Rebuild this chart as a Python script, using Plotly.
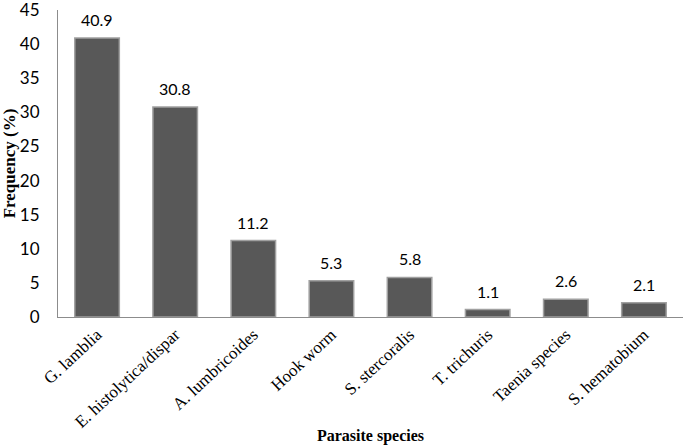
import plotly.graph_objects as go

categories = ["G. lamblia", "E. histolytica/dispar", "A. lumbricoides", "Hook worm",
              "S. stercoralis", "T. trichuris", "Taenia species", "S. hematobium"]
values = [40.9, 30.8, 11.2, 5.3, 5.8, 1.1, 2.6, 2.1]
y_ticks = [0, 5, 10, 15, 20, 25, 30, 35, 40, 45]

fig = go.Figure()
fig.add_trace(go.Bar(
    x=categories, y=values,
    marker=dict(color="#585858", line=dict(color="#a0a0a0", width=1.5)),
    width=0.57,
))
for c, v in zip(categories, values):
    fig.add_annotation(x=c, y=v, text=f"{v}", showarrow=False, yanchor="bottom",
                       yshift=7, font=dict(family="Lato, Liberation Sans", size=16, color="#000"))

fig.update_layout(
    width=685, height=445,
    margin=dict(l=58, r=2, t=10, b=128),
    paper_bgcolor="white", plot_bgcolor="white",
    showlegend=False,
    xaxis=dict(
        tickangle=-43, showline=True, linecolor="#8c8c8c", linewidth=1,
        ticks="", tickfont=dict(family="Liberation Serif", size=17, color="#000"),
        title=dict(text="<b>Parasite species</b>", font=dict(family="Liberation Serif", size=16, color="#000"), standoff=0),
        range=[-0.5, 7.5], automargin=False,
    ),
    yaxis=dict(
        range=[0, 45], tickvals=y_ticks, showline=True, linecolor="#8c8c8c", linewidth=1,
        showgrid=False, zeroline=False, ticks="", ticklabelstandoff=14,
        ticklabeloverflow="allow",
        tickfont=dict(family="Lato, Liberation Sans", size=17, color="#000"),
        title=dict(text="<b>Frequency (%)</b>", font=dict(family="Liberation Serif", size=17, color="#000"), standoff=8),
        automargin=False,
    ),
)
fig.write_html("out.html", config={"displayModeBar": False},
               post_script="document.body.style.margin='0';document.body.style.overflow='hidden';")
